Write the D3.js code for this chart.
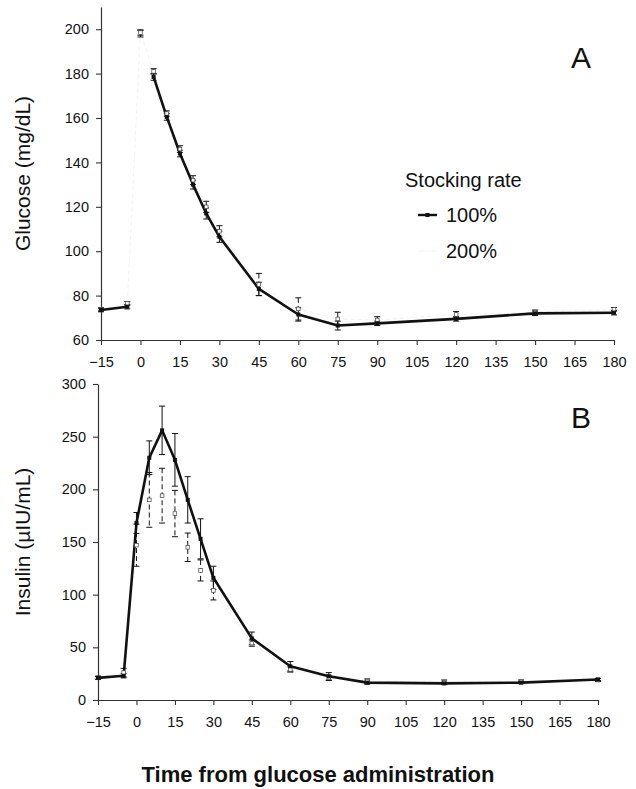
<!DOCTYPE html>
<html>
<head>
<meta charset="utf-8">
<script src="https://cdnjs.cloudflare.com/ajax/libs/d3/7.8.5/d3.min.js"></script>
<style>
  html, body { margin: 0; padding: 0; background: #fff; }
  svg { display: block; }
  text { font-family: "Liberation Sans", Arial, Helvetica, sans-serif; fill: #111; }
</style>
</head>
<body>
<svg id="chart" width="636" height="789"></svg>
<script>
// ---------------- data ----------------
const times = [-15, -5, 0, 5, 10, 15, 20, 25, 30, 45, 60, 75, 90, 120, 150, 180];

const glucose100    = [73.5, 75, 198, 178.5, 160.5, 144, 130, 117, 106.5, 83, 71.5, 66.5, 67.5, 69.5, 72, 72.3];
const glucose100Err = [0.8, 1, 1.5, 1.5, 1.5, 1.5, 2, 2.5, 2.5, 3, 3, 2, 1, 1, 1, 1];
const glucose200    = [73.8, 76.5, 198.5, 181, 162, 146, 132, 120, 109, 85, 74, 69.5, 69, 71.5, 72.5, 73.8];
const glucose200Err = [0.7, 0.8, 1.2, 1.2, 1.2, 1.5, 2, 2.5, 2.5, 5, 5, 3, 1.5, 1.3, 1, 0.8];
const glucoseLineGaps = [0]; // time points where the scanned 100% line is not drawn

const insulin100    = [21, 23, 168, 230, 256, 228, 190, 153, 116, 58.5, 32, 22.5, 16.5, 15.8, 16.5, 19.5];
const insulin100Err = [1.5, 2, 10, 16, 23, 25, 22, 19, 11, 6, 4.5, 3.5, 1.5, 1.2, 1, 1];
const insulin200    = [21, 26, 147, 190, 194, 177, 145, 123, 104, 54, 29, 21, 18, 17, 17.5, 19];
const insulin200Err = [1.5, 4, 20, 26, 26, 22, 13.5, 10, 9, 3, 2.5, 2.5, 2, 2, 1.5, 1.5];

const xTicks = [-15, 0, 15, 30, 45, 60, 75, 90, 105, 120, 135, 150, 165, 180];
const glucoseTicks = [60, 80, 100, 120, 140, 160, 180, 200];
const insulinTicks = [0, 50, 100, 150, 200, 250, 300];

const seriesLabels = ["100%", "200%"];
const legendTitle = "Stocking rate";
const xTitle = "Time from glucose administration";
const glucoseTitle = "Glucose (mg/dL)";
const insulinTitle = "Insulin (\u00b5IU/mL)";

// ---------------- drawing ----------------
const svg = d3.select("#chart");
const ink = "#111";

function panel(cfg) {
  const g = svg.append("g");
  const x = d3.scaleLinear().domain([-15, 180]).range(cfg.xRange);
  const y = d3.scaleLinear().domain(cfg.yDomain).range(cfg.yRange);

  // axes
  const xa = g.append("g").attr("transform", `translate(0,${cfg.yRange[0]})`)
    .call(d3.axisBottom(x).tickValues(xTicks).tickSize(5).tickPadding(12).tickSizeOuter(0));
  const ya = g.append("g").attr("transform", `translate(${cfg.xRange[0]},0)`)
    .call(d3.axisLeft(y).tickValues(cfg.yTicks).tickSize(5).tickPadding(7).tickSizeOuter(0));
  [xa, ya].forEach(a => {
    a.select(".domain").attr("stroke", "#333").attr("stroke-width", 1.2);
    a.selectAll(".tick line").attr("stroke", "#333").attr("stroke-width", 1.1);
    a.selectAll(".tick text").attr("font-size", 14.5).attr("fill", ink)
      .attr("font-family", "Liberation Sans, Arial, sans-serif");
  });

  const mk = (vals, errs) => times.map((t, i) => ({ t, v: vals[i], e: errs[i] }));
  const s100 = mk(cfg.v100, cfg.e100);
  const s200 = mk(cfg.v200, cfg.e200);

  // 200% line (practically invisible in the scan)
  g.append("path").datum(s200)
    .attr("fill", "none").attr("stroke", "#efefef").attr("stroke-width", 0.8)
    .attr("stroke-dasharray", "4,3")
    .attr("d", d3.line().x(d => x(d.t)).y(d => y(d.v)));

  // error bars
  function errBars(data, dashed, cls) {
    const eg = g.append("g").attr("class", cls);
    const cap = 3;
    data.forEach(d => {
      const cx = x(d.t), yt = y(d.v + d.e), yb = y(d.v - d.e);
      eg.append("line").attr("x1", cx).attr("x2", cx).attr("y1", yt).attr("y2", yb)
        .attr("stroke", ink).attr("stroke-width", 1)
        .attr("stroke-dasharray", dashed ? "5,3" : null);
      [yt, yb].forEach(yy => eg.append("line")
        .attr("x1", cx - cap).attr("x2", cx + cap).attr("y1", yy).attr("y2", yy)
        .attr("stroke", ink).attr("stroke-width", 1));
    });
  }
  errBars(s200, true, "err200");
  errBars(s100, false, "err100");

  // 100% line
  const gaps = cfg.gaps || [];
  g.append("path").datum(s100)
    .attr("fill", "none").attr("stroke", ink).attr("stroke-width", 2.6)
    .attr("stroke-linejoin", "round")
    .attr("d", d3.line().defined(d => !gaps.includes(d.t)).x(d => x(d.t)).y(d => y(d.v)));

  // markers
  g.append("g").selectAll("rect").data(s200).join("rect")
    .attr("x", d => x(d.t) - 1.8).attr("y", d => y(d.v) - 1.8)
    .attr("width", 3.6).attr("height", 3.6)
    .attr("fill", "#fff").attr("stroke", "#444").attr("stroke-width", 0.7);
  g.append("g").selectAll("rect").data(s100.filter(d => !gaps.includes(d.t))).join("rect")
    .attr("x", d => x(d.t) - 2).attr("y", d => y(d.v) - 2)
    .attr("width", 4).attr("height", 4)
    .attr("fill", ink);

  // y title
  const yMid = (cfg.yRange[0] + cfg.yRange[1]) / 2;
  svg.append("text").attr("transform", `translate(30,${yMid}) rotate(-90)`)
    .attr("text-anchor", "middle").attr("font-size", 21).text(cfg.title);

  // panel letter
  svg.append("text").attr("x", 581).attr("y", cfg.letterY).attr("text-anchor", "middle")
    .attr("font-size", 30).text(cfg.letter);
  return { x, y };
}

panel({
  xRange: [101, 614], yDomain: [60, 210], yRange: [340, 7], yTicks: glucoseTicks,
  v100: glucose100, e100: glucose100Err, v200: glucose200, e200: glucose200Err,
  gaps: glucoseLineGaps, title: glucoseTitle, letter: "A", letterY: 68
});
panel({
  xRange: [98, 598], yDomain: [0, 300], yRange: [700, 384], yTicks: insulinTicks,
  v100: insulin100, e100: insulin100Err, v200: insulin200, e200: insulin200Err,
  title: insulinTitle, letter: "B", letterY: 428
});

// legend
const lg = svg.append("g");
lg.append("text").attr("x", 405).attr("y", 187).attr("font-size", 20).text(legendTitle);
lg.append("line").attr("x1", 418).attr("x2", 437).attr("y1", 215).attr("y2", 215)
  .attr("stroke", ink).attr("stroke-width", 2.4);
lg.append("rect").attr("x", 425.5).attr("y", 213).attr("width", 4).attr("height", 4).attr("fill", ink);
lg.append("text").attr("x", 446).attr("y", 222).attr("font-size", 20).text(seriesLabels[0]);
lg.append("line").attr("x1", 418).attr("x2", 437).attr("y1", 251).attr("y2", 251)
  .attr("stroke", "#f2f2f2").attr("stroke-width", 0.8);
lg.append("text").attr("x", 446).attr("y", 258).attr("font-size", 20).text(seriesLabels[1]);

// x title
svg.append("text").attr("x", 318).attr("y", 782).attr("text-anchor", "middle")
  .attr("font-size", 22).attr("font-weight", "bold").text(xTitle);
</script>
</body>
</html>
